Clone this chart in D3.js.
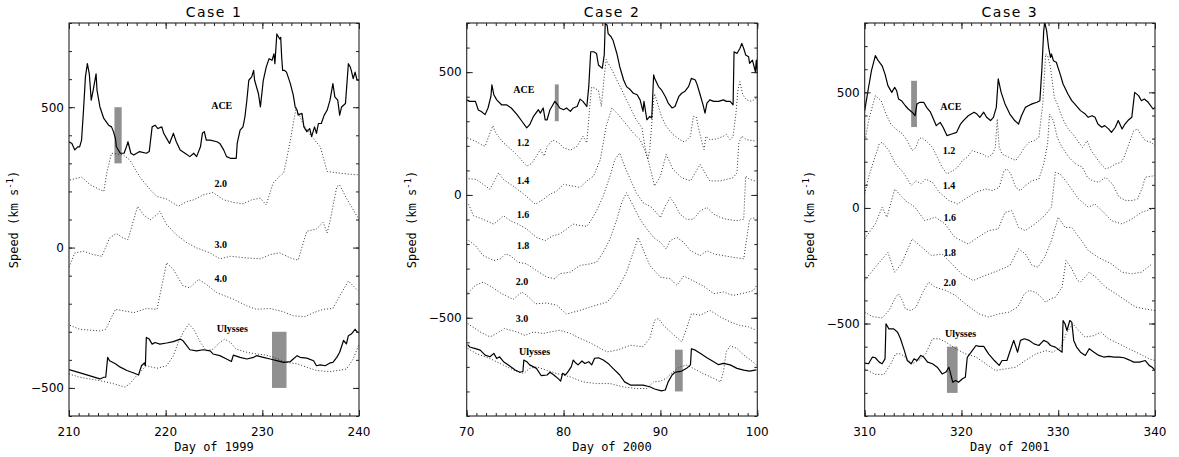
<!DOCTYPE html>
<html><head><meta charset="utf-8">
<script src="https://cdn.jsdelivr.net/npm/d3@7"></script>
<style>body{margin:0;background:#fff}svg{display:block}</style>
</head><body><svg id="c" width="1179" height="457"></svg>
<script>
// ---------------- DATA ([day, speed km/s]) ----------------
const case1Ace = [[210.0,377],[210.3,371],[210.6,348],[210.9,359],[211.1,359],[211.3,383],[211.5,489],[211.7,608],[211.9,655],[212.1,619],[212.3,525],[212.5,560],[212.8,619],[212.9,560],[213.2,501],[213.6,460],[214.1,436],[214.4,430],[214.6,413],[214.8,389],[214.9,359],[215.3,336],[215.7,336],[216.0,365],[216.1,377],[216.4,336],[216.7,330],[217.3,342],[218.0,336],[218.3,342],[218.6,430],[218.9,436],[219.2,424],[219.6,430],[219.8,407],[220.1,389],[220.4,371],[220.8,407],[221.1,377],[221.5,348],[222.0,336],[222.5,324],[222.9,336],[223.2,324],[223.6,359],[223.8,407],[224.0,413],[224.2,383],[224.6,383],[225.3,377],[225.6,371],[226.0,348],[226.3,324],[226.7,318],[227.0,318],[227.3,318],[227.4,371],[227.7,418],[228.0,430],[228.2,466],[228.4,525],[228.6,596],[228.9,608],[229.1,631],[229.2,596],[229.6,548],[229.8,501],[230.1,596],[230.4,643],[230.7,673],[231.0,667],[231.2,690],[231.3,655],[231.5,761],[231.8,743],[231.9,749],[232.0,678],[232.1,631],[232.3,631],[232.5,625],[232.9,584],[233.2,543],[233.4,501],[233.6,489],[233.7,472],[234.1,478],[234.3,430],[234.6,413],[234.9,424],[235.1,395],[235.4,430],[235.6,407],[235.8,442],[236.1,442],[236.4,472],[236.7,489],[237.0,525],[237.3,584],[237.5,537],[237.8,525],[238.0,472],[238.2,501],[238.6,513],[238.7,560],[238.9,655],[239.1,643],[239.2,631],[239.4,602],[239.6,625],[239.8,596],[240.0,596]];
const case1R20 = [[210.1,241],[211.3,251],[212.2,223],[213.6,200],[213.9,265],[214.4,336],[215.6,330],[216.3,312],[217.3,253],[218.4,206],[219.1,182],[220.1,173],[221.3,147],[222.2,164],[222.9,170],[223.9,188],[224.9,196],[226.0,170],[227.0,161],[228.0,156],[228.9,170],[229.8,176],[230.4,152],[231.1,229],[231.8,255],[232.2,265],[232.5,312],[232.9,383],[233.5,499],[234.2,442],[235.0,400],[236.0,359],[236.7,271],[238.0,265],[239.8,259],[240.0,262]];
const case1R30 = [[210.0,-70],[210.6,-19],[211.5,-13],[212.5,-25],[213.4,-31],[214.2,34],[214.9,50],[215.6,34],[216.1,28],[216.5,76],[217.1,147],[217.7,117],[218.4,99],[219.1,117],[219.4,129],[220.1,82],[221.1,46],[222.2,17],[223.2,-1],[224.6,-19],[225.6,-40],[226.7,-31],[228.4,-37],[229.8,-40],[230.8,-25],[231.8,-19],[232.9,-37],[233.7,-45],[234.6,58],[235.6,66],[236.3,90],[236.7,52],[237.0,93],[237.7,217],[238.0,223],[238.7,176],[239.8,111],[240.0,105]];
const case1R40 = [[210.1,-277],[211.1,-291],[213.2,-297],[213.8,-291],[214.8,-220],[215.8,-226],[216.7,-232],[218.0,-217],[219.1,-220],[219.6,-137],[220.1,-54],[220.8,-78],[221.8,-137],[222.5,-143],[223.4,-113],[224.2,-131],[225.3,-161],[227.0,-184],[228.4,-208],[229.4,-220],[230.8,-217],[232.2,-229],[233.2,-243],[234.4,-246],[235.3,-232],[236.3,-220],[237.3,-217],[238.0,-173],[238.9,-119],[239.9,-154]];
const case1Uly = [[210.0,-435],[211.5,-450],[213.2,-468],[213.6,-462],[213.8,-462],[214.0,-391],[214.2,-403],[214.8,-414],[215.3,-426],[216.0,-438],[216.7,-447],[217.2,-454],[217.3,-442],[217.5,-421],[217.8,-411],[217.9,-421],[218.0,-320],[218.3,-326],[218.6,-344],[218.9,-338],[219.4,-344],[220.1,-340],[220.8,-335],[221.5,-326],[221.8,-332],[222.2,-350],[222.5,-364],[223.2,-368],[223.9,-364],[224.6,-368],[224.9,-379],[225.6,-385],[226.3,-397],[226.8,-406],[227.0,-383],[227.7,-391],[228.4,-397],[229.1,-391],[229.4,-385],[230.1,-391],[230.8,-397],[231.5,-403],[232.2,-409],[232.9,-406],[233.2,-397],[233.6,-385],[233.9,-391],[234.6,-394],[235.3,-403],[235.6,-421],[236.0,-418],[236.5,-421],[237.0,-411],[237.3,-409],[237.7,-391],[238.0,-373],[238.4,-331],[238.7,-343],[238.9,-314],[239.2,-308],[239.6,-291],[239.8,-300],[240.0,-303]];
const case1UlyModel = [[210.0,-450],[211.1,-462],[213.2,-474],[214.6,-485],[215.8,-497],[216.3,-485],[217.0,-456],[218.0,-421],[219.1,-430],[220.1,-421],[220.8,-385],[221.3,-338],[221.8,-302],[222.4,-272],[222.9,-291],[223.6,-338],[224.2,-368],[224.9,-362],[225.6,-338],[226.1,-326],[226.7,-338],[227.3,-362],[228.4,-373],[229.4,-379],[230.4,-383],[231.5,-395],[232.5,-409],[233.6,-414],[234.6,-426],[235.6,-438],[237.0,-442],[238.7,-433],[239.4,-397],[240.0,-344]];

const case2Ace = [[70.0,387],[70.3,381],[70.9,381],[71.2,346],[71.5,340],[71.9,327],[72.2,354],[72.5,401],[72.6,448],[72.8,408],[73.1,387],[73.6,367],[74.1,367],[74.6,354],[75.2,327],[75.7,300],[76.2,273],[76.5,286],[76.9,320],[77.4,347],[77.6,333],[77.9,354],[78.1,306],[78.3,306],[78.6,347],[78.9,367],[79.1,381],[79.4,367],[79.6,354],[80.0,347],[80.3,354],[80.7,340],[81.0,354],[81.4,360],[81.7,390],[82.0,381],[82.4,360],[82.6,441],[82.8,583],[83.1,583],[83.4,576],[83.6,529],[83.8,522],[84.0,516],[84.2,570],[84.3,698],[84.5,691],[84.6,657],[84.9,644],[85.1,630],[85.5,576],[85.8,522],[86.2,468],[86.5,441],[86.9,428],[87.2,414],[87.6,408],[87.9,387],[88.2,340],[88.3,381],[88.6,306],[88.9,320],[89.1,313],[89.3,489],[89.4,475],[89.8,441],[90.1,428],[90.5,401],[90.8,374],[91.2,354],[91.5,360],[91.9,401],[92.2,414],[92.5,421],[92.9,441],[93.2,475],[93.6,468],[93.8,448],[94.1,408],[94.4,367],[94.6,333],[94.8,374],[95.1,387],[95.5,381],[96.0,381],[96.5,387],[96.8,381],[97.2,381],[97.5,367],[97.6,583],[97.9,576],[98.2,596],[98.4,617],[98.6,596],[98.8,570],[99.1,563],[99.2,536],[99.5,549],[99.8,502],[99.9,549],[100.0,499]];
const case2R12 = [[70.07,232],[70.9,219],[71.5,205],[71.9,198],[72.4,252],[72.7,282],[73.0,252],[73.8,212],[74.6,185],[75.3,158],[76.2,117],[76.7,128],[77.2,158],[77.6,185],[78.0,158],[78.3,198],[78.9,223],[79.5,212],[80.0,192],[80.7,182],[81.4,198],[81.8,225],[82.0,239],[82.4,212],[82.7,360],[82.9,439],[83.2,435],[83.6,425],[83.9,360],[84.2,482],[84.4,552],[84.6,536],[85.0,509],[85.5,468],[86.0,428],[86.5,387],[87.0,347],[87.5,306],[88.1,273],[88.4,198],[88.7,144],[88.9,185],[89.3,387],[89.4,412],[89.8,360],[90.1,320],[90.6,279],[91.3,246],[92.0,225],[92.5,215],[93.1,239],[93.4,320],[93.7,317],[93.9,279],[94.3,212],[94.5,185],[94.7,239],[95.1,225],[95.8,228],[96.5,239],[96.8,246],[97.2,225],[97.5,239],[97.8,333],[98.0,428],[98.2,461],[98.5,408],[98.9,387],[99.4,381],[99.9,394]];
const case2R14 = [[70.2,66],[71.0,63],[72.4,23],[73.3,90],[73.8,63],[74.8,36],[75.9,3],[77.1,-38],[77.9,-18],[78.6,3],[79.3,16],[80.0,43],[81.0,36],[81.7,30],[82.4,57],[83.1,77],[83.8,144],[84.4,280],[85.0,354],[85.8,320],[86.5,286],[87.2,252],[87.9,225],[88.4,180],[88.8,131],[89.4,36],[90.0,77],[90.6,165],[91.3,104],[92.2,70],[93.1,57],[94.1,124],[94.6,90],[95.1,57],[96.2,57],[97.5,70],[97.9,90],[98.1,212],[98.4,239],[98.9,225],[99.9,219]];
const case2R16 = [[70.2,-38],[70.7,-85],[71.7,-99],[72.8,-119],[73.8,-85],[74.5,-105],[75.3,-119],[76.2,-139],[77.2,-173],[78.1,-186],[78.9,-166],[79.6,-159],[80.3,-139],[81.0,-119],[81.5,-123],[82.4,-128],[82.9,-99],[83.4,-65],[84.1,-4],[84.8,77],[85.3,144],[85.8,171],[86.3,117],[86.9,63],[87.5,9],[88.2,-31],[89.1,-51],[90.0,-92],[90.5,-45],[91.0,-11],[91.5,-38],[92.0,-78],[92.7,-99],[93.4,-99],[94.1,-65],[94.8,-51],[95.5,-78],[96.2,-92],[96.8,-99],[97.9,-105],[98.6,-99],[98.8,77],[99.2,63],[99.8,57]];
const case2R18 = [[70.2,-186],[70.9,-206],[71.7,-247],[72.8,-267],[73.5,-260],[74.0,-240],[74.5,-247],[75.3,-274],[76.2,-281],[77.2,-308],[78.3,-335],[79.1,-341],[79.6,-321],[80.7,-314],[81.7,-287],[82.7,-281],[83.4,-274],[84.1,-233],[84.8,-179],[85.5,-99],[86.0,-31],[86.5,9],[87.2,-45],[87.9,-99],[88.6,-139],[89.3,-173],[90.0,-193],[90.6,-220],[91.0,-186],[91.7,-173],[92.4,-193],[93.1,-227],[94.1,-247],[94.8,-227],[95.5,-240],[96.5,-247],[97.5,-254],[98.6,-260],[98.9,-179],[99.2,-99],[99.8,-92]];
const case2R20 = [[70.1,-399],[70.9,-368],[71.7,-355],[72.6,-375],[73.6,-402],[74.8,-425],[75.7,-395],[76.2,-409],[77.1,-443],[78.3,-440],[79.3,-449],[80.3,-485],[81.7,-470],[83.1,-452],[84.5,-436],[85.1,-409],[85.8,-368],[86.5,-314],[87.2,-233],[87.7,-173],[88.2,-220],[88.9,-287],[90.0,-335],[91.0,-341],[91.7,-368],[92.4,-330],[93.4,-350],[94.4,-370],[95.5,-402],[96.5,-395],[97.5,-409],[98.6,-400],[99.6,-389],[99.9,-370]];
const case2R30 = [[70.1,-524],[71.4,-558],[72.4,-578],[73.1,-564],[73.9,-544],[75.2,-558],[76.0,-572],[76.9,-558],[77.9,-564],[78.6,-558],[79.6,-551],[80.7,-564],[81.7,-584],[82.7,-601],[83.8,-625],[84.5,-639],[85.5,-632],[86.9,-612],[88.2,-618],[88.9,-584],[89.4,-510],[89.8,-503],[90.3,-530],[91.4,-571],[92.2,-598],[92.7,-544],[93.2,-483],[94.1,-490],[95.1,-470],[96.2,-497],[97.2,-517],[98.2,-531],[99.1,-537],[99.9,-551]];
const case2Uly = [[70.1,-609],[70.3,-619],[70.9,-626],[71.4,-632],[71.9,-652],[72.4,-659],[72.8,-645],[73.1,-666],[73.4,-659],[73.8,-679],[74.3,-692],[75.0,-713],[75.5,-722],[75.8,-719],[75.9,-672],[76.2,-679],[76.5,-692],[77.2,-706],[77.7,-736],[78.3,-733],[78.6,-722],[79.0,-733],[79.5,-750],[79.7,-758],[79.9,-726],[80.2,-733],[80.5,-717],[80.8,-699],[81.0,-672],[81.2,-682],[81.5,-692],[81.9,-676],[82.2,-686],[82.6,-679],[82.9,-692],[83.2,-665],[83.6,-663],[84.1,-672],[84.6,-686],[85.1,-706],[85.8,-733],[86.3,-761],[86.9,-774],[87.5,-774],[88.2,-774],[88.9,-781],[89.4,-790],[90.1,-798],[90.5,-794],[90.8,-761],[91.2,-733],[91.5,-722],[91.9,-719],[92.2,-717],[92.7,-706],[93.1,-692],[93.2,-626],[93.6,-632],[94.1,-645],[94.8,-663],[95.5,-679],[96.0,-691],[96.5,-686],[97.2,-692],[97.9,-706],[98.6,-713],[99.2,-717],[99.9,-712]];
const case2UlyModel = [[70.1,-625],[71.0,-646],[72.4,-666],[73.8,-693],[75.2,-720],[75.9,-726],[76.5,-706],[77.2,-700],[78.3,-714],[79.3,-727],[80.7,-741],[82.0,-761],[83.4,-768],[84.8,-768],[86.2,-782],[87.5,-788],[88.6,-788],[89.3,-761],[90.0,-758],[90.6,-747],[91.3,-720],[92.0,-700],[92.7,-693],[93.4,-706],[94.4,-727],[95.5,-747],[96.2,-761],[96.5,-720],[96.8,-638],[97.2,-614],[97.9,-625],[98.6,-652],[99.3,-672],[99.9,-692]];

const case3Ace = [[310.0,421],[310.4,522],[310.7,594],[311.1,659],[311.4,637],[311.8,615],[312.1,579],[312.4,529],[312.8,500],[313.1,522],[313.3,507],[313.5,471],[313.8,464],[314.2,442],[314.5,428],[314.9,414],[315.2,399],[315.4,450],[315.7,457],[316.1,457],[316.4,435],[316.8,414],[317.1,385],[317.4,356],[317.8,370],[318.1,349],[318.5,313],[319.0,320],[319.5,327],[319.9,363],[320.2,378],[320.7,399],[321.3,414],[321.6,406],[321.9,392],[322.3,414],[322.6,392],[323.0,378],[323.3,392],[323.6,435],[323.8,558],[324.1,500],[324.5,450],[325.0,406],[325.5,378],[325.9,363],[326.2,399],[326.6,435],[326.9,442],[327.3,450],[327.8,457],[328.1,464],[328.3,594],[328.5,767],[328.6,803],[328.8,767],[329.0,695],[329.2,651],[329.3,666],[329.5,637],[329.8,630],[330.2,579],[330.5,536],[331.0,493],[331.4,464],[331.7,450],[332.3,421],[332.8,406],[333.1,392],[333.5,399],[333.8,392],[334.1,363],[334.5,349],[334.8,356],[335.2,342],[335.5,327],[335.9,349],[336.2,378],[336.6,342],[336.9,363],[337.2,378],[337.6,392],[337.9,500],[338.3,486],[338.6,464],[338.9,471],[339.3,457],[339.8,428],[340.0,435]];
const case3R12 = [[310.1,305],[310.4,378],[311.1,486],[311.7,464],[312.2,406],[312.7,363],[313.2,342],[313.9,320],[314.4,291],[314.9,248],[315.3,262],[315.6,298],[315.9,305],[316.5,284],[317.0,262],[317.5,219],[318.0,176],[318.5,147],[319.1,161],[319.6,176],[320.1,205],[320.6,219],[321.1,248],[321.6,241],[322.2,233],[322.7,219],[323.2,233],[323.5,262],[323.7,385],[323.9,262],[324.2,233],[324.9,219],[325.6,205],[326.1,233],[326.5,262],[327.0,284],[327.5,291],[328.0,305],[328.4,450],[328.7,666],[328.9,659],[329.2,608],[329.6,478],[329.9,450],[330.4,392],[330.9,349],[331.5,320],[332.0,291],[332.5,262],[333.0,291],[333.4,248],[333.9,219],[334.4,190],[334.9,169],[335.4,176],[335.9,190],[336.5,197],[336.8,219],[337.3,277],[337.8,334],[338.2,342],[338.5,320],[339.0,291],[339.6,284],[340.0,269]];
const case3R14 = [[310.0,61],[310.4,133],[311.5,277],[311.8,284],[312.5,248],[313.2,190],[314.1,147],[314.8,97],[315.3,118],[315.8,104],[316.3,125],[317.0,111],[317.7,68],[318.7,32],[319.6,17],[320.4,39],[321.5,68],[322.5,82],[323.2,75],[323.9,89],[324.4,161],[324.7,169],[325.1,147],[325.6,89],[326.1,75],[326.6,97],[327.3,118],[328.0,125],[328.5,190],[328.9,277],[329.1,406],[329.5,378],[329.9,305],[330.4,262],[331.1,219],[331.8,190],[332.5,176],[333.0,133],[333.5,118],[334.2,111],[334.9,133],[335.6,104],[336.3,46],[337.0,32],[337.7,32],[338.2,39],[338.7,89],[339.0,133],[340.0,140]];
const case3R16 = [[310.0,-134],[311.1,-69],[311.8,3],[312.3,-40],[313.1,82],[314.2,32],[315.2,3],[316.2,-55],[317.3,-40],[318.3,-69],[319.3,-127],[320.7,-156],[321.7,-127],[322.8,-98],[323.8,-91],[324.5,-19],[325.2,-12],[325.9,-84],[326.6,-98],[327.6,-69],[328.6,-33],[329.3,3],[329.7,154],[330.2,147],[331.0,104],[332.1,39],[333.1,3],[333.8,17],[334.7,-19],[335.5,-55],[336.6,-69],[337.6,-48],[338.6,-19],[339.7,-4]];
const case3R18 = [[310.0,-314],[311.1,-256],[312.4,-192],[313.1,-278],[313.8,-242],[314.9,-134],[315.9,-170],[316.9,-206],[318.0,-199],[319.0,-242],[320.0,-285],[321.2,-314],[322.4,-293],[323.8,-271],[325.0,-249],[325.9,-177],[326.6,-199],[327.3,-249],[327.9,-256],[328.6,-213],[329.3,-141],[330.0,-40],[330.7,-84],[331.4,-84],[332.4,-141],[333.1,-184],[334.1,-213],[335.5,-242],[336.6,-278],[337.6,-285],[338.6,-278],[339.7,-242]];
const case3R20 = [[310.0,-451],[310.8,-470],[311.8,-476],[312.5,-444],[313.2,-386],[313.5,-372],[313.9,-401],[314.2,-437],[314.8,-444],[315.3,-429],[316.0,-365],[316.6,-321],[317.3,-343],[318.4,-357],[319.4,-379],[320.4,-415],[321.8,-458],[322.8,-472],[323.9,-458],[324.9,-451],[325.8,-429],[326.5,-372],[327.0,-357],[327.7,-365],[328.4,-393],[328.7,-408],[329.2,-393],[329.7,-386],[330.4,-343],[330.8,-228],[331.3,-256],[332.0,-314],[332.3,-321],[333.2,-278],[333.9,-300],[334.9,-343],[336.0,-372],[337.0,-401],[338.0,-429],[339.0,-437],[340.0,-444]];
const case3Uly = [[310.0,-671],[310.4,-674],[310.8,-645],[311.1,-648],[311.5,-667],[311.8,-674],[312.1,-653],[312.2,-501],[312.5,-523],[313.0,-523],[313.4,-538],[313.7,-566],[314.1,-617],[314.4,-660],[314.8,-674],[315.1,-653],[315.4,-660],[315.8,-638],[316.1,-645],[316.5,-667],[317.0,-674],[317.5,-689],[318.0,-718],[318.4,-710],[318.7,-689],[319.1,-754],[319.4,-746],[319.7,-754],[320.1,-739],[320.4,-732],[320.6,-646],[321.0,-624],[321.5,-595],[321.8,-599],[322.3,-599],[322.8,-631],[323.4,-660],[323.9,-681],[324.2,-660],[324.7,-660],[325.1,-609],[325.4,-573],[325.8,-624],[326.1,-573],[326.5,-566],[327.0,-573],[327.5,-588],[328.0,-595],[328.5,-573],[328.9,-581],[329.2,-595],[329.7,-602],[330.4,-624],[330.5,-487],[330.7,-501],[330.9,-530],[331.2,-487],[331.4,-494],[331.6,-573],[331.9,-602],[332.3,-624],[332.8,-638],[333.2,-609],[333.7,-624],[334.2,-638],[334.7,-645],[335.2,-642],[335.8,-645],[336.3,-645],[336.8,-648],[337.3,-657],[337.8,-667],[338.4,-667],[339.0,-660],[339.4,-681],[339.7,-689],[340.0,-703]];
const case3UlyModel = [[310.0,-696],[311.1,-720],[312.0,-720],[312.7,-674],[313.2,-631],[313.7,-631],[314.2,-645],[314.9,-674],[315.6,-660],[316.3,-631],[317.0,-566],[317.7,-566],[318.4,-581],[319.4,-609],[320.4,-631],[321.5,-645],[322.5,-674],[323.5,-703],[324.6,-696],[325.6,-689],[326.6,-660],[327.7,-631],[328.7,-617],[329.4,-624],[330.3,-602],[330.8,-545],[331.5,-501],[332.1,-530],[332.8,-559],[333.7,-552],[334.4,-537],[335.2,-566],[336.3,-588],[337.3,-609],[338.4,-631],[339.4,-653],[340.0,-660]];

// gray bars: [dayStart, dayEnd, speedLow, speedHigh]
const case1Bars = [[214.7,215.45,300,500],[231.0,232.5,-500,-300]];
const case2Bars = [[79.1,79.5,300,450],[91.5,92.3,-800,-630]];
const case3Bars = [[314.8,315.4,350,550],[318.5,319.6,-800,-600]];

// curve labels: [text, day, speed]
const case1Labels = [["ACE",225.8,507],["2.0",225.7,230],["3.0",225.7,11],["4.0",225.7,-110],["Ulysses",226.9,-287]];
const case2Labels = [["ACE",75.9,428],["1.2",75.8,213],["1.4",75.8,59],["1.6",75.8,-78],["1.8",75.8,-204],["2.0",75.7,-354],["3.0",75.7,-503],["Ulysses",77.0,-637]];
const case3Labels = [["ACE",318.9,438],["1.2",318.7,248],["1.4",318.7,97],["1.6",318.8,-42],["1.8",318.8,-193],["2.0",318.8,-323],["Ulysses",319.9,-544]];

const titles = ["Case 1","Case 2","Case 3"];
const xLabels = ["Day of 1999","Day of 2000","Day of 2001"];
const xDomains = [[210,240],[70,100],[310,340]];
const yDomains = [[-600,800],[-900,700],[-900,800]];
const xTickVals = [[210,220,230,240],[70,80,90,100],[310,320,330,340]];
const yTickVals = [[-500,0,500],[-500,0,500],[-500,0,500]];

// ---------------- DRAW ----------------
const svg = d3.select("#c");
svg.append("rect").attr("width",1179).attr("height",457).attr("fill","#fff");

const layout = [
  {l:69, r:359},
  {l:466.7, r:757.3},
  {l:864.7, r:1155}
];
const plotTop = 23, plotBottom = 416;

const panels = [
  {solid:[case1Ace, case1Uly], dotted:[case1R20, case1R30, case1R40, case1UlyModel], bars:case1Bars, labels:case1Labels},
  {solid:[case2Ace, case2Uly], dotted:[case2R12, case2R14, case2R16, case2R18, case2R20, case2R30, case2UlyModel], bars:case2Bars, labels:case2Labels},
  {solid:[case3Ace, case3Uly], dotted:[case3R12, case3R14, case3R16, case3R18, case3R20, case3UlyModel], bars:case3Bars, labels:case3Labels}
];

panels.forEach((p, i) => {
  const L = layout[i];
  const x = d3.scaleLinear().domain(xDomains[i]).range([L.l, L.r]);
  const y = d3.scaleLinear().domain(yDomains[i]).range([plotBottom, plotTop]);
  const g = svg.append("g");
  const clipId = "clip" + i;
  svg.append("clipPath").attr("id", clipId).append("rect")
    .attr("x", L.l).attr("y", plotTop).attr("width", L.r - L.l).attr("height", plotBottom - plotTop);

  const plot = g.append("g").attr("clip-path", `url(#${clipId})`);
  plot.selectAll("rect.bar").data(p.bars).enter().append("rect")
    .attr("x", d => x(d[0])).attr("width", d => x(d[1]) - x(d[0]))
    .attr("y", d => y(d[3])).attr("height", d => y(d[2]) - y(d[3]))
    .attr("fill", "#909090");
  const line = d3.line().x(d => x(d[0])).y(d => y(d[1]));
  p.dotted.forEach(s => {
    plot.append("path").datum(s).attr("d", line).attr("fill","none")
      .attr("stroke","#333").attr("stroke-width",1).attr("stroke-dasharray","1,2");
  });
  p.solid.forEach(s => {
    plot.append("path").datum(s).attr("d", line).attr("fill","none")
      .attr("stroke","#000").attr("stroke-width",1.2).attr("stroke-linejoin","round");
  });
  g.selectAll("text.lab").data(p.labels).enter().append("text")
    .attr("x", d => x(d[1])).attr("y", d => y(d[2])).attr("dy","0.35em")
    .attr("text-anchor","middle").attr("font-family","'Liberation Serif', serif")
    .attr("font-weight","bold").attr("font-size", 10).text(d => d[0]);

  const xMinor = d3.range(xDomains[i][0], xDomains[i][1] + 0.001, 1);
  const yMinor = d3.range(Math.ceil(yDomains[i][0]/100)*100, yDomains[i][1] + 1, 100);
  const mkX = (axisFn, len) => axisFn(x).tickValues(xMinor).tickSizeInner(len).tickSizeOuter(0).tickFormat("");
  const mkY = (axisFn, len) => axisFn(y).tickValues(yMinor).tickSizeInner(len).tickSizeOuter(0).tickFormat("");
  g.append("g").attr("transform",`translate(0,${plotBottom})`).call(mkX(d3.axisTop, 3));
  g.append("g").attr("transform",`translate(0,${plotTop})`).call(mkX(d3.axisBottom, 3));
  g.append("g").attr("transform",`translate(${L.l},0)`).call(mkY(d3.axisRight, 3));
  g.append("g").attr("transform",`translate(${L.r},0)`).call(mkY(d3.axisLeft, 3));
  g.append("g").attr("transform",`translate(0,${plotBottom})`)
    .call(d3.axisTop(x).tickValues(xTickVals[i]).tickSizeInner(6).tickSizeOuter(0).tickFormat(""));
  g.append("g").attr("transform",`translate(0,${plotTop})`)
    .call(d3.axisBottom(x).tickValues(xTickVals[i]).tickSizeInner(6).tickSizeOuter(0).tickFormat(""));
  g.append("g").attr("transform",`translate(${L.l},0)`)
    .call(d3.axisRight(y).tickValues(yTickVals[i]).tickSizeInner(6).tickSizeOuter(0).tickFormat(""));
  g.append("g").attr("transform",`translate(${L.r},0)`)
    .call(d3.axisLeft(y).tickValues(yTickVals[i]).tickSizeInner(6).tickSizeOuter(0).tickFormat(""));
  g.selectAll(".domain").remove();
  g.selectAll(".tick line").attr("stroke","#222").attr("stroke-width",1);

  g.append("rect").attr("x",L.l).attr("y",plotTop).attr("width",L.r-L.l).attr("height",plotBottom-plotTop)
    .attr("fill","none").attr("stroke","#222").attr("stroke-width",1.1);

  g.selectAll("text.xt").data(xTickVals[i]).enter().append("text")
    .attr("x", d => x(d)).attr("y", 436).attr("text-anchor","middle")
    .attr("font-family","'DejaVu Sans', sans-serif").attr("font-size",12).text(d => d);
  g.selectAll("text.yt").data(yTickVals[i]).enter().append("text")
    .attr("x", L.l - 5).attr("y", d => y(d)).attr("dy","0.36em").attr("text-anchor","end")
    .attr("font-family","'DejaVu Sans', sans-serif").attr("font-size",12)
    .text(d => d < 0 ? "\u2212" + Math.abs(d) : d);

  g.append("text").attr("x",(L.l+L.r)/2).attr("y",17).attr("text-anchor","middle")
    .attr("font-family","'DejaVu Sans', sans-serif").attr("font-size",14)
    .attr("letter-spacing","1.5px").text(titles[i]);
  g.append("text").attr("x",(L.l+L.r)/2).attr("y",451).attr("text-anchor","middle")
    .attr("font-family","'DejaVu Sans Mono', monospace").attr("font-size",12).text(xLabels[i]);
  const yl = g.append("text").attr("transform",`translate(${L.l-51},${(plotTop+plotBottom)/2}) rotate(-90)`)
    .attr("text-anchor","middle").attr("font-family","'DejaVu Sans Mono', monospace").attr("font-size",12);
  yl.append("tspan").text("Speed (km s");
  yl.append("tspan").attr("dy",-5).attr("font-size",9).text("-1");
  yl.append("tspan").attr("dy",5).text(")");
});
</script></body></html>
